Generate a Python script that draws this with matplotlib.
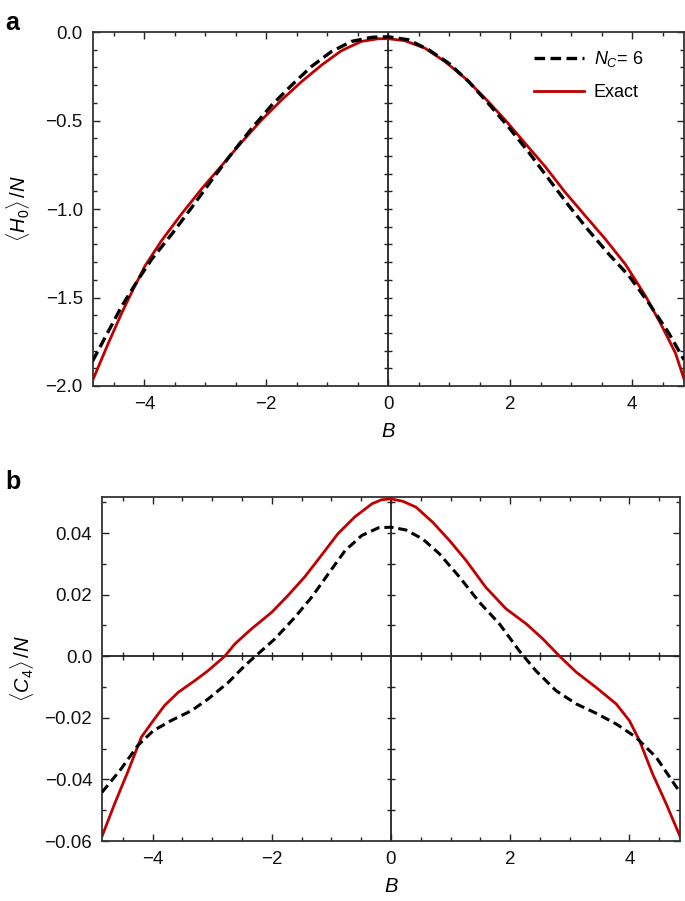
import matplotlib
matplotlib.use("Agg")
import matplotlib.pyplot as plt
from matplotlib.ticker import MultipleLocator

plt.rcParams['font.family'] = ['Liberation Sans', 'DejaVu Sans']
plt.rcParams['mathtext.fontset'] = 'custom'
plt.rcParams['mathtext.rm'] = 'Liberation Sans'
plt.rcParams['mathtext.it'] = 'Liberation Sans:italic'
plt.rcParams['mathtext.bf'] = 'Liberation Sans:bold'

# ---- Panel a data: <H0>/N ----
B_a_exact = [-4.85, -4.59, -4.37, -4.21, -3.99, -3.72, -3.39, -3.06, -2.73, -2.40,
             -2.08, -1.75, -1.42, -1.09, -0.77, -0.44, -0.16, 0.0,
             0.27, 0.60, 0.93, 1.26, 1.59, 1.92, 2.25, 2.58, 2.90, 3.23,
             3.56, 3.89, 4.22, 4.49, 4.71, 4.85]
H0_exact = [-1.97, -1.758, -1.587, -1.473, -1.322, -1.18, -1.028, -0.886, -0.754, -0.621,
            -0.498, -0.384, -0.280, -0.186, -0.106, -0.053, -0.038, -0.038,
            -0.049, -0.091, -0.167, -0.261, -0.375, -0.498, -0.631, -0.763, -0.905, -1.038,
            -1.17, -1.313, -1.492, -1.663, -1.814, -1.96]

B_a_nc6 = [-4.85, -4.59, -4.37, -4.10, -3.88, -3.55, -3.22, -2.90, -2.57, -2.24,
           -1.91, -1.58, -1.26, -0.93, -0.60, -0.27, 0.0,
           0.33, 0.66, 0.99, 1.32, 1.64, 1.97, 2.30, 2.63, 2.96, 3.29,
           3.62, 3.95, 4.27, 4.60, 4.85]
H0_nc6 = [-1.86, -1.691, -1.549, -1.398, -1.284, -1.142, -0.99, -0.839, -0.688, -0.545,
          -0.413, -0.299, -0.195, -0.11, -0.053, -0.030, -0.027,
          -0.044, -0.10, -0.176, -0.28, -0.403, -0.536, -0.678, -0.83, -0.981, -1.123,
          -1.256, -1.379, -1.53, -1.701, -1.852]

# ---- Panel b data: <C4>/N ----
B_b_exact = [-4.85, -4.64, -4.41, -4.19, -3.99, -3.80, -3.57, -3.29, -3.07, -2.79,
             -2.62, -2.34, -2.00, -1.73, -1.45, -1.17, -0.89, -0.61, -0.32, -0.16, 0.0,
             0.20, 0.42, 0.70, 0.98, 1.26, 1.59, 1.93, 2.27, 2.55, 2.83,
             3.11, 3.44, 3.78, 4.00, 4.17, 4.39, 4.62, 4.85]
C4_exact = [-0.0585, -0.048, -0.0372, -0.0263, -0.0209, -0.016, -0.0117, -0.0079, -0.0047, 0.0,
            0.004, 0.0089, 0.0143, 0.0197, 0.0257, 0.0327, 0.0398, 0.0452, 0.0495, 0.0508, 0.0511,
            0.0503, 0.0484, 0.0435, 0.0376, 0.0311, 0.0224, 0.0154, 0.0105, 0.0056, 0.0,
            -0.0052, -0.0101, -0.0155, -0.0209, -0.0274, -0.0382, -0.048, -0.0585]

B_b_nc6 = [-4.85, -4.53, -4.25, -3.99, -3.69, -3.35, -3.07, -2.73, -2.45, -2.23,
           -1.95, -1.61, -1.33, -1.05, -0.77, -0.49, -0.21, 0.0,
           0.25, 0.53, 0.81, 1.15, 1.48, 1.82, 2.15, 2.43, 2.77, 3.11,
           3.44, 3.78, 4.11, 4.45, 4.85]
C4_nc6 = [-0.0442, -0.0366, -0.029, -0.0242, -0.0209, -0.0177, -0.0139, -0.0085, -0.003, 0.0008,
          0.0056, 0.0127, 0.0192, 0.0268, 0.0343, 0.0392, 0.0417, 0.0419,
          0.041, 0.0381, 0.0333, 0.0257, 0.0176, 0.0105, 0.0018, -0.0047, -0.0112, -0.0155,
          -0.0185, -0.022, -0.0263, -0.0328, -0.0442]

xticks = [-4, -2, 0, 2, 4]
label_nc6 = r'$N_C$= 6'
label_exact = 'Exact'

RED = '#c00000'
W, H = 685, 901
fig = plt.figure(figsize=(W / 100, H / 100), dpi=100)

ax_a = fig.add_axes([92.5 / W, 1 - 386 / H, (684 - 92.5) / W, (386 - 32) / H])
ax_b = fig.add_axes([102 / W, 1 - 841 / H, (680 - 102) / W, (841 - 497) / H])

TICKFS = 13.5

def style_axes(ax, ymajor, yminor):
    ax.set_xlim(-4.85, 4.85)
    ax.xaxis.set_major_locator(MultipleLocator(2))
    ax.xaxis.set_minor_locator(MultipleLocator(0.5))
    ax.yaxis.set_major_locator(MultipleLocator(ymajor))
    ax.yaxis.set_minor_locator(MultipleLocator(yminor))
    ax.tick_params(which='both', direction='in', top=True, right=True,
                   width=1.0, colors='#222222', labelcolor='#111111',
                   labelsize=TICKFS, pad=7)
    ax.tick_params(which='major', length=5)
    ax.tick_params(which='minor', length=3)
    for s in ax.spines.values():
        s.set_linewidth(1.3)
        s.set_color('#333333')
    ax.set_xticks(xticks)
    ax.set_xlabel(r'$B$', fontsize=14.5, labelpad=7)

# Panel a
ax_a.axvline(0, color='#222222', lw=1.3, zorder=1)
ax_a.plot(B_a_nc6, H0_nc6, color='black', lw=2.4, dashes=(3.2, 1.6), label=label_nc6, zorder=3)
ax_a.plot(B_a_exact, H0_exact, color=RED, lw=2.0, label=label_exact, zorder=2)
ax_a.set_ylim(-2.0, 0.0)
style_axes(ax_a, 0.5, 0.1)
ax_a.set_yticks([-2.0, -1.5, -1.0, -0.5, 0.0])
ax_a.set_yticklabels(['\u22122.0', '\u22121.5', '\u22121.0', '\u22120.5', '0.0'])
ax_a.set_xticklabels(['\u22124', '\u22122', '0', '2', '4'])
ax_a.set_ylabel(r'$\langle H_0\rangle\,/N$', fontsize=14.5, labelpad=10)
yt_a = [-1.9, -1.8, -1.7, -1.6, -1.5, -1.4, -1.3, -1.2, -1.1, -1.0, -0.9, -0.8,
        -0.7, -0.6, -0.5, -0.4, -0.3, -0.2, -0.1]
ax_a.plot([0] * len(yt_a), yt_a, ls='none', marker='_', ms=6, mew=1.0, color='#222222', zorder=1)
leg = ax_a.legend(loc='upper right', frameon=False, fontsize=13, handlelength=2.8,
                  handletextpad=0.5, labelspacing=0.85, bbox_to_anchor=(0.958, 0.998))

# Panel b
ax_b.axvline(0, color='#222222', lw=1.3, zorder=1)
ax_b.axhline(0, color='#222222', lw=1.3, zorder=1)
ax_b.plot(B_b_nc6, C4_nc6, color='black', lw=2.2, dashes=(3.0, 1.6), zorder=3)
ax_b.plot(B_b_exact, C4_exact, color=RED, lw=2.0, zorder=2)
ax_b.set_ylim(-0.06, 0.0517)
style_axes(ax_b, 0.02, 0.01)
ax_b.set_yticks([-0.06, -0.04, -0.02, 0.0, 0.02, 0.04])
ax_b.set_yticklabels(['\u22120.06', '\u22120.04', '\u22120.02', '0.0', '0.02', '0.04'])
ax_b.set_xticklabels(['\u22124', '\u22122', '0', '2', '4'])
ax_b.set_ylabel(r'$\langle C_4\rangle\,/N$', fontsize=14.5, labelpad=6)
yt_b = [-0.05, -0.04, -0.03, -0.02, -0.01, 0.01, 0.02, 0.03, 0.04, 0.05]
ax_b.plot([0] * len(yt_b), yt_b, ls='none', marker='_', ms=6, mew=1.0, color='#222222', zorder=1)
xt_b = [-4.5, -4, -3.5, -3, -2.5, -2, -1.5, -1, -0.5, 0.5, 1, 1.5, 2, 2.5, 3, 3.5, 4, 4.5]
ax_b.plot(xt_b, [0] * len(xt_b), ls='none', marker='|', ms=6, mew=1.0, color='#222222', zorder=1)

fig.text(0.008, 0.988, 'a', fontsize=18, fontweight='bold', va='top', ha='left')
fig.text(0.008, 0.478, 'b', fontsize=18, fontweight='bold', va='top', ha='left')

fig.savefig('out.png', dpi=100)
